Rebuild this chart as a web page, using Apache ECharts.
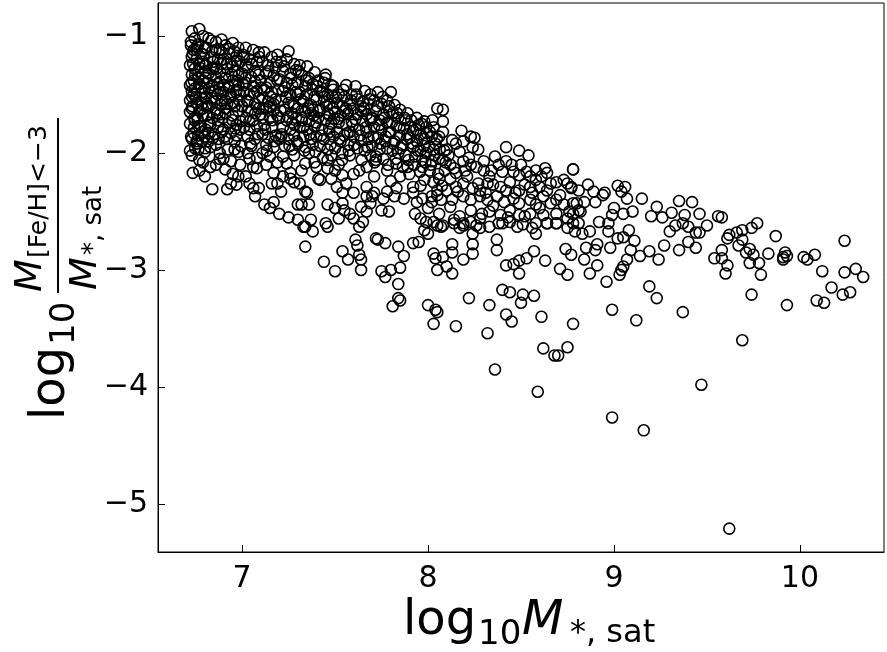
<!DOCTYPE html>
<html>
<head>
<meta charset="utf-8">
<script src="https://cdn.jsdelivr.net/npm/echarts@6/dist/echarts.min.js"></script>
<style>html,body{margin:0;padding:0;background:#fff}#c{width:887px;height:652px}</style>
</head>
<body>
<div id="c"></div>
<script>
// x: log10 M*,sat ; y: log10 (M[Fe/H]<-3 / M*,sat)
const xTicks = [7, 8, 9, 10];
const yTicks = [-5, -4, -3, -2, -1];

const leftBand = [
[6.73,-0.96],[6.77,-0.94],[6.745,-1.02],[6.79,-1.0],[6.725,-1.08],[6.74,-1.12],[6.765,-1.07],[6.80,-1.1],[6.73,-1.18],[6.755,-1.2],[6.78,-1.15],[6.72,-1.25],[6.745,-1.28],[6.77,-1.24],[6.80,-1.3],[6.73,-1.33],[6.765,-1.36],[6.79,-1.38],[6.72,-1.42],[6.745,-1.45],[6.77,-1.41],[6.74,-1.5],[6.785,-1.48],[6.72,-1.55],[6.755,-1.57],[6.80,-1.53],[6.73,-1.62],[6.77,-1.64],[6.745,-1.7],[6.79,-1.68],[6.72,-1.75],[6.765,-1.77],[6.74,-1.83],[6.785,-1.82],[6.73,-1.88],[6.755,-1.92],[6.80,-1.86],[6.72,-1.98],[6.745,-1.72],[6.79,-1.22],[6.74,-1.38],[6.765,-1.3],[6.73,-1.47],[6.755,-1.12],[6.80,-1.45],[6.785,-1.58],[6.72,-1.65],[6.765,-1.85],
[6.77,-2.15],[6.735,-2.17],[6.80,-2.2],[6.765,-1.97],[6.80,-1.99],[6.755,-1.9],[6.785,-1.9],
[6.82,-1.02],[6.86,-1.05],[6.89,-1.03],[6.81,-1.1],[6.84,-1.13],[6.88,-1.12],[6.83,-1.18],[6.87,-1.2],[6.805,-1.25],[6.85,-1.27],[6.89,-1.24],[6.82,-1.32],[6.86,-1.35],[6.81,-1.4],[6.84,-1.42],[6.88,-1.39],[6.83,-1.48],[6.87,-1.5],[6.805,-1.52],[6.85,-1.56],[6.89,-1.55],[6.82,-1.6],[6.86,-1.63],[6.81,-1.68],[6.84,-1.7],[6.88,-1.67],[6.83,-1.76],[6.87,-1.78],[6.805,-1.8],[6.85,-1.84],[6.89,-1.82],[6.82,-1.9],[6.86,-1.93],[6.88,-1.45],[6.84,-1.28],[6.81,-1.6],[6.87,-1.72],[6.83,-1.95],
[6.83,-2.12],[6.84,-2.31],[6.88,-2.0],[6.90,-2.05],
[6.91,-1.08],[6.95,-1.06],[6.98,-1.1],[6.93,-1.15],[6.97,-1.17],[6.90,-1.2],[6.94,-1.23],[6.99,-1.22],[6.92,-1.28],[6.96,-1.3],[6.91,-1.36],[6.95,-1.38],[6.98,-1.34],[6.93,-1.44],[6.97,-1.46],[6.90,-1.48],[6.94,-1.52],[6.99,-1.5],[6.92,-1.58],[6.96,-1.6],[6.91,-1.66],[6.95,-1.68],[6.98,-1.64],[6.93,-1.74],[6.97,-1.76],[6.90,-1.8],[6.94,-1.83],[6.99,-1.8],[6.92,-1.88],[6.96,-1.9],[6.98,-1.42],[6.95,-1.26],[6.91,-1.55],[6.97,-1.85],
[6.92,-2.31],[6.94,-2.26],[6.97,-2.27],[6.98,-2.2],[6.94,-2.07],[6.96,-1.97],[6.88,-2.05],[6.79,-2.08]
];

const leftFill = [
[6.725,-1.05],[6.735,-1.15],[6.748,-1.33],[6.728,-1.4],[6.752,-1.52],[6.733,-1.6],[6.742,-1.78],[6.726,-1.86],[6.761,-1.71],[6.782,-1.44],[6.771,-1.27],[6.795,-1.16],[6.805,-1.36],[6.812,-1.58],[6.826,-1.74],[6.835,-1.04],[6.846,-1.22],[6.853,-1.47],[6.866,-1.66],[6.874,-1.88],[6.882,-1.31],[6.893,-1.14],[6.905,-1.42],[6.912,-1.62],[6.923,-1.97],[6.931,-1.11],[6.946,-1.33],[6.952,-1.57],[6.964,-1.79],[6.972,-1.21],[6.985,-1.55],[6.992,-1.73],[6.737,-1.24],[6.748,-1.96],[6.766,-1.35],[6.789,-1.62],[6.817,-1.83],[6.838,-1.53],[6.858,-1.12],[6.871,-1.41],[6.897,-1.7],[6.918,-1.24],[6.939,-1.5],[6.958,-1.13],[6.976,-1.38],[6.995,-1.94],[6.731,-1.52],[6.757,-1.09],[6.779,-1.77],[6.801,-1.96],[6.822,-1.45],[6.844,-1.87],[6.863,-1.28],[6.886,-1.59],[6.908,-1.86],[6.927,-1.43],[6.949,-1.72],[6.968,-1.48],[6.981,-1.99],[6.73,-2.02],[6.77,-2.06],[6.86,-2.1],[6.91,-2.14],[6.95,-2.18],[6.99,-2.1]
];

const midBand = [
[7.02,-1.1],[7.06,-1.12],[7.09,-1.14],[7.01,-1.18],[7.04,-1.2],[7.08,-1.22],[7.03,-1.27],[7.07,-1.3],[7.00,-1.32],[7.05,-1.35],[7.09,-1.33],[7.02,-1.4],[7.06,-1.43],[7.01,-1.48],[7.04,-1.5],[7.08,-1.47],[7.03,-1.56],[7.07,-1.58],[7.00,-1.6],[7.05,-1.64],[7.09,-1.62],[7.02,-1.7],[7.06,-1.72],[7.01,-1.78],[7.04,-1.8],[7.08,-1.77],[7.03,-1.86],[7.07,-1.88],[7.05,-1.94],[7.09,-1.53],[7.02,-1.25],
[7.02,-2.2],[7.06,-2.3],[7.07,-2.37],[7.09,-2.3],[7.08,-2.13],[7.06,-2.12],[7.03,-2.0],[7.04,-2.05],
[7.12,-1.14],[7.16,-1.18],[7.19,-1.16],[7.11,-1.22],[7.14,-1.25],[7.18,-1.27],[7.13,-1.32],[7.17,-1.34],[7.10,-1.38],[7.15,-1.4],[7.19,-1.38],[7.12,-1.46],[7.16,-1.48],[7.11,-1.53],[7.14,-1.56],[7.18,-1.54],[7.13,-1.62],[7.17,-1.64],[7.10,-1.67],[7.15,-1.7],[7.19,-1.68],[7.12,-1.76],[7.16,-1.78],[7.11,-1.84],[7.14,-1.87],[7.18,-1.85],[7.13,-1.93],[7.17,-1.95],[7.15,-1.6],
[7.12,-2.44],[7.15,-2.47],[7.17,-2.42],[7.16,-2.26],[7.17,-2.17],[7.19,-2.26],[7.15,-2.03],[7.11,-2.0],
[7.25,-1.13],[7.21,-1.22],[7.24,-1.2],[7.28,-1.24],[7.22,-1.3],[7.26,-1.32],[7.29,-1.29],[7.20,-1.37],[7.24,-1.4],[7.27,-1.42],[7.22,-1.47],[7.26,-1.5],[7.29,-1.48],[7.21,-1.55],[7.25,-1.57],[7.28,-1.6],[7.23,-1.63],[7.27,-1.66],[7.20,-1.7],[7.24,-1.72],[7.29,-1.7],[7.22,-1.78],[7.26,-1.8],[7.21,-1.86],[7.25,-1.88],[7.28,-1.85],[7.23,-1.94],[7.27,-1.97],
[7.21,-2.33],[7.20,-2.52],[7.25,-2.55],[7.28,-2.25],[7.26,-2.17],[7.24,-2.09],[7.22,-2.03],
[7.31,-1.25],[7.35,-1.26],[7.39,-1.31],[7.32,-1.33],[7.36,-1.36],[7.30,-1.4],[7.34,-1.43],[7.38,-1.41],[7.31,-1.48],[7.35,-1.5],[7.39,-1.52],[7.33,-1.56],[7.37,-1.59],[7.30,-1.62],[7.34,-1.65],[7.38,-1.63],[7.32,-1.7],[7.36,-1.73],[7.31,-1.78],[7.35,-1.8],[7.39,-1.77],[7.33,-1.86],[7.37,-1.88],[7.30,-1.92],[7.34,-1.95],[7.38,-1.93],[7.36,-2.0],
[7.30,-2.57],[7.34,-2.63],[7.34,-2.8],[7.30,-2.44],[7.34,-2.33],[7.31,-2.26],[7.34,-2.09],
[7.45,-1.33],[7.41,-1.38],[7.44,-1.4],[7.48,-1.42],[7.42,-1.47],[7.46,-1.5],[7.49,-1.46],[7.40,-1.54],[7.44,-1.56],[7.47,-1.58],[7.42,-1.63],[7.46,-1.66],[7.49,-1.62],[7.41,-1.7],[7.45,-1.72],[7.48,-1.75],[7.43,-1.8],[7.47,-1.82],[7.40,-1.86],[7.44,-1.88],[7.49,-1.86],[7.42,-1.94],[7.46,-1.97],[7.48,-2.02],[7.44,-1.52],
[7.40,-2.12],[7.46,-2.06],[7.42,-2.23],[7.48,-2.22],[7.41,-2.22]
];

const midFill = [
[7.005,-1.16],[7.018,-1.36],[7.027,-1.55],[7.039,-1.73],[7.044,-1.92],[7.052,-1.24],[7.063,-1.49],[7.071,-1.66],[7.085,-1.84],[7.093,-1.18],[7.104,-1.44],[7.112,-1.62],[7.124,-1.8],[7.133,-1.98],[7.142,-1.3],[7.155,-1.52],[7.163,-1.72],[7.174,-1.9],[7.186,-1.22],[7.195,-1.46],[7.207,-1.64],[7.213,-1.84],[7.226,-1.26],[7.234,-1.52],[7.247,-1.69],[7.255,-1.94],[7.264,-1.36],[7.276,-1.58],[7.283,-1.76],[7.295,-1.9],[7.304,-1.3],[7.315,-1.54],[7.322,-1.72],[7.336,-1.98],[7.343,-1.38],[7.357,-1.62],[7.364,-1.84],[7.378,-1.46],[7.386,-1.68],[7.394,-1.99],[7.405,-1.43],[7.413,-1.64],[7.426,-1.85],[7.434,-2.04],[7.447,-1.36],[7.455,-1.6],[7.468,-1.79],[7.476,-1.93],[7.487,-1.52],[7.495,-1.71],[7.01,-1.42],[7.03,-1.64],[7.07,-1.39],[7.11,-1.7],[7.13,-1.44],[7.17,-1.58],[7.2,-1.88],[7.23,-1.44],[7.27,-1.74],[7.3,-1.5],[7.33,-1.78],[7.37,-1.66],[7.4,-1.74],[7.43,-1.48],[7.47,-1.68],[7.08,-2.04],[7.19,-2.08],[7.28,-2.02],[7.39,-2.08],[7.46,-2.13],[7.13,-2.1],[7.32,-2.15],[7.26,-2.22],[7.04,-2.26],[7.22,-2.2]
];

const band75 = [
[7.49,-1.43],[7.56,-1.42],[7.52,-1.5],[7.55,-1.52],[7.59,-1.5],[7.51,-1.57],[7.54,-1.6],[7.58,-1.58],[7.50,-1.65],[7.53,-1.68],[7.57,-1.66],[7.52,-1.74],[7.56,-1.76],[7.59,-1.73],[7.51,-1.82],[7.55,-1.85],[7.58,-1.82],[7.53,-1.9],[7.57,-1.93],[7.50,-1.96],[7.54,-2.0],[7.58,-2.02],[7.56,-1.62],
[7.50,-2.15],[7.54,-2.19],[7.51,-2.29],[7.56,-2.26],[7.54,-2.34],
[7.61,-1.43],[7.66,-1.47],[7.69,-1.5],[7.62,-1.54],[7.65,-1.56],[7.68,-1.58],[7.60,-1.62],[7.64,-1.64],[7.67,-1.67],[7.61,-1.71],[7.65,-1.73],[7.69,-1.72],[7.63,-1.8],[7.67,-1.82],[7.60,-1.86],[7.64,-1.89],[7.68,-1.88],[7.62,-1.96],[7.66,-1.98],[7.69,-2.02],[7.64,-1.6],
[7.63,-2.15],[7.67,-2.12],[7.67,-2.29],[7.60,-2.34],
[7.73,-1.48],[7.78,-1.55],[7.71,-1.55],[7.75,-1.58],[7.79,-1.6],[7.72,-1.64],[7.76,-1.67],[7.70,-1.7],[7.74,-1.72],[7.78,-1.74],[7.71,-1.78],[7.75,-1.8],[7.79,-1.82],[7.73,-1.87],[7.77,-1.9],[7.70,-1.94],[7.74,-1.97],[7.78,-1.96],[7.72,-2.03],[7.76,-2.05],
[7.72,-2.06],[7.78,-2.15],[7.70,-2.37],[7.78,-2.33],
[7.80,-1.48],[7.82,-1.59],[7.85,-1.63],[7.89,-1.66],[7.81,-1.66],[7.84,-1.7],[7.88,-1.72],[7.83,-1.77],[7.87,-1.79],[7.80,-1.82],[7.85,-1.85],[7.89,-1.84],[7.82,-1.9],[7.86,-1.93],[7.81,-1.98],[7.84,-2.0],[7.88,-2.02],
[7.83,-2.09],[7.85,-2.2],[7.89,-2.12],[7.83,-2.3],
[7.94,-1.7],[7.98,-1.73],[7.91,-1.72],[7.95,-1.76],[7.99,-1.78],[7.92,-1.81],[7.96,-1.84],[7.90,-1.87],[7.94,-1.9],[7.98,-1.88],[7.92,-1.95],[7.96,-1.98],[7.99,-2.0],[7.93,-2.03],[7.97,-2.06],
[7.97,-2.12],[7.98,-2.23],[7.92,-2.29],
[8.05,-1.62],[8.08,-1.63],[8.08,-1.73],[8.08,-1.82],[8.03,-1.78],[8.06,-1.86],[8.01,-1.82],[8.04,-1.92],[8.02,-1.86],[8.03,-1.97]
];

const fill75 = [
[7.505,-1.52],[7.517,-1.71],[7.524,-1.88],[7.538,-2.06],[7.546,-1.46],[7.553,-1.64],[7.567,-1.83],[7.574,-1.98],[7.586,-1.55],[7.595,-1.76],[7.603,-1.93],[7.615,-1.5],[7.622,-1.67],[7.636,-1.85],[7.643,-2.06],[7.655,-1.62],[7.667,-1.78],[7.674,-1.95],[7.686,-1.54],[7.694,-1.7],[7.706,-1.86],[7.713,-2.08],[7.725,-1.6],[7.737,-1.76],[7.744,-1.92],[7.756,-1.52],[7.765,-1.7],[7.773,-1.86],[7.785,-2.1],[7.792,-1.64],[7.806,-1.74],[7.813,-1.92],[7.827,-2.05],[7.834,-1.66],[7.846,-1.78],[7.853,-1.96],[7.865,-2.12],[7.874,-1.7],[7.886,-1.88],[7.895,-2.06],[7.904,-1.78],[7.917,-1.92],[7.925,-2.1],[7.936,-1.8],[7.944,-1.98],[7.957,-2.16],[7.965,-1.75],[7.978,-1.94],[7.986,-2.08],[7.994,-1.83],[8.005,-1.95],[8.016,-2.1],[8.024,-1.72],[8.035,-2.02],[8.047,-1.88],[8.055,-2.18],[8.063,-1.97],[8.075,-2.28],[8.088,-1.98],[8.095,-2.08],[7.52,-2.1],[7.6,-2.18],[7.71,-2.2],[7.8,-2.24],[7.9,-2.18],[7.96,-2.28],
[8.11,-2.02],[8.14,-2.13],[8.21,-2.2],[8.27,-2.26],[8.33,-2.2],[8.38,-2.1],[8.44,-2.25],[8.5,-2.1],[8.56,-2.34],[8.61,-2.2],[8.66,-2.26],[8.71,-2.36],[8.27,-1.97],[8.35,-2.45],[8.43,-2.55],[8.6,-2.47],[8.12,-2.46],[8.16,-2.33],[8.22,-2.04],[8.31,-2.34]
];

const band81 = [
[8.18,-1.81],[8.23,-1.86],[8.25,-1.87],[8.13,-1.89],[8.15,-1.92],[8.19,-1.90],[8.24,-1.95],[8.17,-1.99],[8.10,-1.97],[8.08,-2.06],[8.06,-2.05],[8.02,-2.07],[8.09,-2.15],[8.12,-2.10],[8.01,-2.15],[8.19,-2.07],[8.23,-2.10],[8.20,-2.15],[8.15,-2.17],[8.12,-2.22],[8.06,-2.22],[8.03,-2.25],[8.26,-2.12],[8.30,-2.07],[8.30,-2.15],[8.36,-2.03],[8.42,-1.95],[8.49,-1.98],[8.54,-2.02],[8.42,-2.07],[8.45,-2.10],[8.34,-2.15],[8.40,-2.16],[8.46,-2.16],[8.49,-2.19],[8.53,-2.16],[8.58,-2.15],[8.63,-2.13],[8.64,-2.17],[8.78,-2.14],[8.55,-2.20],[8.58,-2.23],[8.73,-2.23],[8.69,-2.25],[8.75,-2.26],[8.77,-2.29],[8.81,-2.32],[8.60,-2.29],[8.64,-2.32],[8.55,-2.29],[8.52,-2.27],[8.49,-2.32],[8.47,-2.34],[8.42,-2.32],[8.39,-2.29],[8.35,-2.27],[8.32,-2.26],[8.28,-2.32],[8.24,-2.30],[8.19,-2.26],[8.15,-2.29],[8.10,-2.32],[8.05,-2.32],[8.02,-2.37],[8.07,-2.40],[8.13,-2.40],[8.19,-2.37],[8.23,-2.40],[8.28,-2.37],[8.32,-2.40],[8.37,-2.37],[8.41,-2.42],[8.46,-2.39],[8.49,-2.43],[8.55,-2.40],[8.58,-2.44],[8.62,-2.37],[8.66,-2.43],[8.69,-2.40],[8.73,-2.44],[8.78,-2.43],[8.81,-2.49],[8.76,-2.50],[8.69,-2.52],[8.62,-2.53],[8.55,-2.52],[8.49,-2.53],[8.44,-2.49],[8.39,-2.53],[8.33,-2.50],[8.29,-2.52],[8.23,-2.49],[8.17,-2.54],[8.14,-2.57],[8.19,-2.60],[8.23,-2.59],[8.26,-2.62],[8.28,-2.56],[8.08,-2.62],[8.03,-2.59],[8.38,-2.60],[8.44,-2.59],[8.48,-2.63],[8.52,-2.54],[8.58,-2.60],[8.64,-2.60],[8.69,-2.60],[8.75,-2.56],[8.78,-2.60]
];

const lowerMid = [
[7.35,-2.34],[7.36,-2.44],[7.32,-2.44],[7.46,-2.44],[7.50,-2.47],[7.54,-2.43],[7.58,-2.52],[7.55,-2.49],[7.60,-2.56],[7.63,-2.63],[7.65,-2.59],[7.67,-2.50],[7.64,-2.46],[7.69,-2.43],[7.67,-2.37],[7.71,-2.34],[7.76,-2.39],[7.75,-2.49],[7.79,-2.50],[7.82,-2.37],[7.87,-2.39],[7.92,-2.34],[7.94,-2.42],[7.97,-2.39],[8.02,-2.42],[8.05,-2.36],[8.00,-2.47],[7.93,-2.52],[7.96,-2.56],[7.99,-2.59],[7.98,-2.66],[8.00,-2.69],[8.05,-2.62],[8.06,-2.52],[7.37,-2.57],[7.33,-2.63],[7.38,-2.67],[7.45,-2.60],[7.46,-2.63],[7.52,-2.56],[7.61,-2.74],[7.62,-2.79],[7.72,-2.73],[7.73,-2.74],[7.77,-2.77],[7.84,-2.80],[7.87,-2.88],[7.92,-2.77],[7.95,-2.76],[7.54,-2.84],[7.57,-2.91],[7.63,-2.87],[7.64,-2.91],[7.64,-3.00],[7.44,-2.93],[7.50,-3.01],[7.75,-3.01],[7.77,-3.06],[7.80,-3.00],[7.85,-2.98],[7.84,-3.12],[7.84,-3.24],[7.85,-3.26],[7.81,-3.31],[8.00,-3.30],[8.04,-3.34],[8.03,-2.86],[8.04,-2.90],[8.05,-3.00],
[8.07,-2.63],[8.14,-2.60],[8.17,-2.64],[8.19,-2.62],[8.24,-2.69],[8.28,-2.64],[8.33,-2.63],[8.40,-2.60],[8.51,-2.61],[8.56,-2.64],[8.58,-2.69],[8.64,-2.60],[8.69,-2.60],[8.75,-2.64],[8.13,-2.78],[8.13,-2.85],[8.24,-2.78],[8.24,-2.86],[8.37,-2.74],[8.37,-2.83],[8.08,-2.89],[8.10,-2.97],[8.13,-3.03],[8.19,-2.91],[8.42,-2.96],[8.46,-2.95],[8.49,-2.92],[8.53,-2.90],[8.57,-2.84],[8.49,-3.03],[8.63,-2.92],[8.71,-2.99],[8.75,-3.04],[8.74,-2.82],[8.40,-3.17],[8.44,-3.19],[8.51,-3.21],[8.50,-3.28],[8.57,-3.22],[8.22,-3.24],[8.33,-3.30],[8.05,-3.36],[8.03,-3.46],[8.15,-3.48],[8.32,-3.54],[8.42,-3.38],[8.45,-3.44],[8.61,-3.40],[8.62,-3.67],[8.68,-3.73],[8.36,-3.85],[8.59,-4.04]
];

const rightBand = [
[9.02,-2.28],[9.06,-2.29],[9.04,-2.33],[8.95,-2.34],[8.94,-2.36],[9.07,-2.39],[9.15,-2.39],[9.35,-2.41],[9.42,-2.42],[9.23,-2.46],[9.20,-2.54],[9.26,-2.55],[9.31,-2.51],[9.38,-2.53],[9.46,-2.52],[9.50,-2.62],[9.30,-2.67],[9.33,-2.62],[9.37,-2.60],[9.40,-2.63],[9.44,-2.68],[9.46,-2.68],[9.10,-2.50],[9.05,-2.52],[9.00,-2.47],[8.99,-2.53],[8.92,-2.59],[8.97,-2.60],[8.90,-2.42],[8.84,-2.42],[8.80,-2.43],[8.78,-2.52],[8.82,-2.50],[8.81,-2.60],[8.83,-2.69],[8.87,-2.67],[8.79,-2.67],[8.97,-2.67],[9.02,-2.73],[9.05,-2.72],[9.08,-2.66],[9.11,-2.75],[8.91,-2.78],[8.90,-2.83],[8.85,-2.81],[8.98,-2.81],[9.09,-2.83],[9.14,-2.88],[9.19,-2.84],[9.24,-2.91],[9.27,-2.79],[9.35,-2.83],[9.44,-2.81],[9.40,-2.76],[9.54,-2.90],[9.56,-2.54],[9.07,-2.91],[9.05,-2.97],[9.04,-3.00],[9.03,-3.04],[8.96,-3.10],[8.91,-2.96],[8.87,-3.03],[8.84,-2.91],[8.77,-2.87],[9.19,-3.14],[9.23,-3.24],[8.78,-2.14],[8.77,-2.30],[8.86,-2.27],[8.89,-2.33],
[9.62,-2.70],[9.61,-2.73],[9.66,-2.68],[9.69,-2.66],[9.69,-2.74],[9.67,-2.79],[9.71,-2.85],[9.73,-2.82],[9.75,-2.87],[9.74,-2.64],[9.77,-2.60],[9.87,-2.71],[9.83,-2.86],[9.73,-2.94],[9.78,-2.94],[9.79,-3.04],[9.60,-3.03],[9.61,-2.96],[9.58,-2.90],[9.58,-2.83],[9.92,-2.85],[9.93,-2.88],[9.91,-2.91],[9.91,-2.89],[10.02,-2.89],[10.04,-2.91],[10.08,-2.87],[10.12,-3.01],[10.24,-2.75],[10.24,-3.02],[10.30,-2.99],[10.34,-3.06],[10.17,-3.15],[10.23,-3.21],[10.27,-3.19],[10.09,-3.26],[10.13,-3.28],[9.93,-3.30],[9.74,-3.21],[9.58,-2.55]
];

const outliers = [
[9.37,-3.36],[8.99,-3.34],[9.12,-3.43],[8.78,-3.46],[8.75,-3.66],[8.70,-3.73],[9.69,-3.60],[9.47,-3.98],[8.99,-4.26],[9.16,-4.37],[9.62,-5.21]
];

const allPoints = [].concat(leftBand, leftFill, midBand, midFill, band75, fill75, band81, lowerMid, rightBand, outliers);

const FONT = 'DejaVu Sans';
const chart = echarts.init(document.getElementById('c'), null, {renderer: 'canvas'});
const minus = v => String(v).replace('-', '\u2212');

chart.setOption({
  animation: false,
  backgroundColor: '#fff',
  grid: {left: 158, top: 3, width: 726, height: 549, show: true, borderColor: '#000', borderWidth: 1, backgroundColor: 'transparent'},
  xAxis: {
    type: 'value', min: 6.548, max: 10.452,
    axisLine: {show: true, onZero: false, lineStyle: {color: '#000', width: 1}},
    axisTick: {show: true, inside: true, length: 7, lineStyle: {color: '#000', width: 1}, customValues: xTicks},
    axisLabel: {show: true, margin: 12, color: '#000', fontFamily: FONT, fontSize: 30, customValues: xTicks, formatter: v => minus(v)},
    splitLine: {show: false}
  },
  yAxis: {
    type: 'value', min: -5.41, max: -0.718,
    axisLine: {show: true, onZero: false, lineStyle: {color: '#000', width: 1}},
    axisTick: {show: true, inside: true, length: 7, lineStyle: {color: '#000', width: 1}, customValues: yTicks},
    axisLabel: {show: true, margin: 10, color: '#000', fontFamily: FONT, fontSize: 30, customValues: yTicks, formatter: v => minus(v)},
    splitLine: {show: false}
  },
  series: [{
    type: 'scatter',
    data: allPoints,
    symbol: 'circle',
    symbolSize: 11,
    itemStyle: {color: 'rgba(0,0,0,0)', borderColor: '#000', borderWidth: 1.6, opacity: 1},
    emphasis: {disabled: true},
    silent: true
  }],
  graphic: [
    // x axis title
    {type: 'text', left: 403, top: 598, style: {text: 'log', font: '48px "DejaVu Sans"', fill: '#000'}},
    {type: 'text', left: 478, top: 618, style: {text: '10', font: '34px "DejaVu Sans"', fill: '#000'}},
    {type: 'text', left: 522, top: 598, style: {text: 'M', font: 'italic 48px "DejaVu Sans"', fill: '#000'}},
    {type: 'text', left: 570, top: 618, style: {text: '*, sat', font: '32px "DejaVu Sans"', fill: '#000'}},
    // y axis title (rotated)
    {type: 'text', x: 28, y: 420, rotation: Math.PI / 2, style: {text: 'log', font: '48px "DejaVu Sans"', fill: '#000', align: 'left', verticalAlign: 'top'}},
    {type: 'text', x: 48, y: 345, rotation: Math.PI / 2, style: {text: '10', font: '34px "DejaVu Sans"', fill: '#000', align: 'left', verticalAlign: 'top'}},
    {type: 'line', shape: {x1: 58, y1: 118, x2: 58, y2: 293}, style: {stroke: '#000', lineWidth: 2}},
    {type: 'text', x: 12, y: 292, rotation: Math.PI / 2, style: {text: 'M', font: 'italic 38px "DejaVu Sans"', fill: '#000', align: 'left', verticalAlign: 'top'}},
    {type: 'text', x: 27, y: 258, rotation: Math.PI / 2, style: {text: '[Fe/H]<\u22123', font: '25px "DejaVu Sans"', fill: '#000', align: 'left', verticalAlign: 'top'}},
    {type: 'text', x: 67, y: 290, rotation: Math.PI / 2, style: {text: 'M', font: 'italic 38px "DejaVu Sans"', fill: '#000', align: 'left', verticalAlign: 'top'}},
    {type: 'text', x: 81, y: 255, rotation: Math.PI / 2, style: {text: '*, sat', font: '26px "DejaVu Sans"', fill: '#000', align: 'left', verticalAlign: 'top'}}
  ]
});
</script>
</body>
</html>
